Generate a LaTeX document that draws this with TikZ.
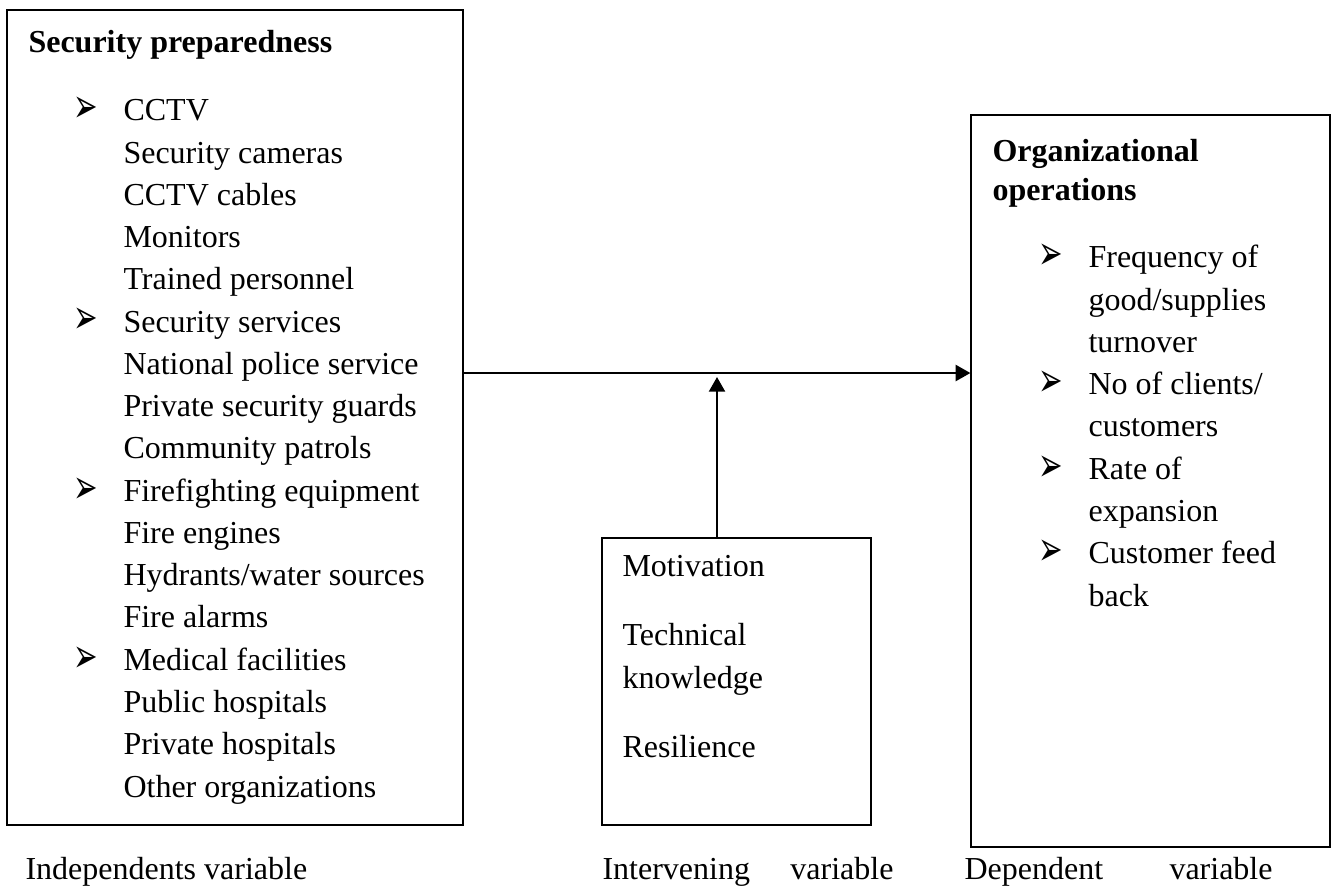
\documentclass[tikz,border=0pt]{standalone}
\usepackage{fontspec}
\usepackage{graphicx}
\setmainfont{Liberation Serif}
\newfontfamily\dingfont{DejaVu Sans}
\usetikzlibrary{arrows.meta, positioning}
\newcommand{\arrowbullet}{\llap{\raisebox{-0.7pt}{\scalebox{1.1}[1.8]{\dingfont\fontsize{10}{11}\selectfont ➢}}\hspace{9.6pt}}}

\begin{document}
\begin{tikzpicture}[x=0.375pt, y=-0.375pt,
    varbox/.style={draw, line width=0.5pt, inner sep=0pt},
    boxtext/.style={anchor=base west, align=left, inner sep=0pt, font=\fontsize{12}{15.85}\selectfont},
    boxhead/.style={boxtext, font=\fontsize{12}{14.3}\selectfont\bfseries},
    caption/.style={anchor=base west, inner sep=0pt, font=\fontsize{12}{14}\selectfont},
    link/.style={line width=0.85pt, -{Triangle[length=5.5pt, width=6pt]}}]
    \useasboundingbox (0,0) rectangle (1332,888);

    % Independent variable (text nodes sit on the baseline of their last line)
    \node[varbox, minimum width=171pt, minimum height=305.6pt] (sec) at (235,417.5) {};
    \node[boxhead] (sechead) at (28,52) {Security preparedness};
    \node[boxtext] (seclist) at (123,797) {
        \arrowbullet CCTV\\ Security cameras\\ CCTV cables\\ Monitors\\ Trained personnel\\
        \arrowbullet Security services\\ National police service\\ Private security guards\\ Community patrols\\
        \arrowbullet Firefighting equipment\\ Fire engines\\ Hydrants/water sources\\ Fire alarms\\
        \arrowbullet Medical facilities\\ Public hospitals\\ Private hospitals\\ Other organizations
    };

    % Intervening variable
    \node[varbox, minimum width=100.9pt, minimum height=107.6pt] (mid) at (736.5,681.5) {};
    \node[boxtext] (midlist) at (622,757) {Motivation\\[10pt] Technical\\ knowledge\\[10pt] Resilience};

    % Dependent variable
    \node[varbox, minimum width=134.6pt, minimum height=274.5pt] (org) at (1150.5,481) {};
    \node[boxhead] (orghead) at (992,200) {Organizational\\ operations};
    \node[boxtext] (orglist) at (1088,606) {
        \arrowbullet Frequency of\\ good/supplies\\ turnover\\
        \arrowbullet No of clients/\\ customers\\
        \arrowbullet Rate of\\ expansion\\
        \arrowbullet Customer feed\\ back
    };

    % Captions
    \node[caption] (indcap) at (25,879) {Independents variable};
    \node[caption] (intcap) at (602,879) {\makebox[109.1pt]{Intervening\hfill variable}};
    \node[caption] (depcap) at (964,879) {\makebox[115.5pt]{Dependent\hfill variable}};

    % Arrows
    \coordinate (join) at (717,373);
    \draw[link] (sec.east |- join) -- (org.west |- join);
    \draw[link] (mid.north -| join) -- ([yshift=-1.5pt]join);
\end{tikzpicture}
\end{document}
